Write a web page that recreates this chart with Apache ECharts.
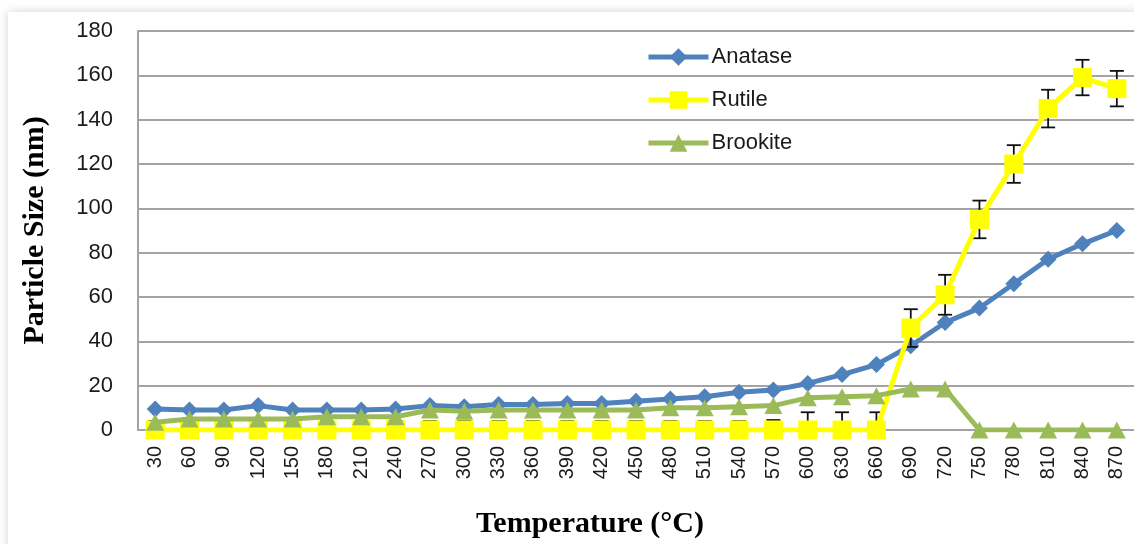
<!DOCTYPE html>
<html>
<head>
<meta charset="utf-8">
<script src="https://cdn.jsdelivr.net/npm/echarts@6/dist/echarts.min.js"></script>
<style>
html,body{margin:0;padding:0;background:#ffffff;}
#frame{position:absolute;left:8px;top:12px;width:1200px;height:700px;background:#fff;box-shadow:0 0 9px rgba(0,0,0,0.18);}
#chart{position:absolute;left:0;top:0;width:1134px;height:544px;}
</style>
</head>
<body>
<div id="frame"></div>
<div id="chart"></div>
<script>
const categories = ['30','60','90','120','150','180','210','240','270','300','330','360','390','420','450','480','510','540','570','600','630','660','690','720','750','780','810','840','870'];
const anatase = [9.5, 9, 9, 11, 9, 9, 9, 9.5, 11, 10.5, 11.5, 11.5, 12, 12, 13, 14, 15, 17, 18, 21, 25, 29.5, 38, 48.5, 55, 66, 77, 84, 90];
const rutile = [0, 0, 0, 0, 0, 0, 0, 0, 0, 0, 0, 0, 0, 0, 0, 0, 0, 0, 0, 0, 0, 0, 46, 61, 95, 120, 145, 159, 154];
const rutileErr = [4, 4, 4, 4, 4, 4, 4, 4, 4, 4, 4, 4, 4, 4, 4, 4, 4, 4, 4.5, 8, 8, 8, 8.5, 9, 8.5, 8.5, 8.5, 8, 8];
const brookite = [3.5, 5, 5, 5, 5, 6, 6, 6, 9, 8.5, 9, 9, 9, 9, 9, 10, 10, 10.5, 11, 14.5, 15, 15.5, 18.5, 18.5, 0, 0, 0, 0, 0];
const yTicks = {min: 0, max: 180, interval: 20};

const errData = rutile.map((v, i) => [i, v - rutileErr[i], v + rutileErr[i]]);

const chart = echarts.init(document.getElementById('chart'), null, {renderer: 'canvas'});
const gridColor = '#a3a3a3';
chart.setOption({
  backgroundColor: 'transparent',
  animation: false,
  grid: {left: 138, right: 0, top: 31, bottom: 112, containLabel: false},
  legend: {
    data: ['Anatase', 'Rutile', 'Brookite'],
    orient: 'vertical',
    left: 641,
    top: 41,
    itemWidth: 60,
    itemHeight: 22,
    itemGap: 21,
    lineStyle: {width: 5},
    textStyle: {fontFamily: 'Liberation Sans', fontSize: 22, color: '#1a1a1a', lineHeight: 22, padding: [0, 0, 0, -2]}
  },
  xAxis: {
    type: 'category',
    data: categories,
    boundaryGap: true,
    axisLine: {show: true, lineStyle: {color: gridColor, width: 2}},
    axisTick: {show: false},
    axisLabel: {rotate: 90, margin: 16, fontFamily: 'Liberation Sans', fontSize: 20, color: '#1a1a1a', interval: 0},
    splitLine: {show: false},
    name: 'Temperature (°C)',
    nameLocation: 'middle',
    nameGap: 79,
    nameTextStyle: {fontFamily: 'Liberation Serif', fontWeight: 'bold', fontSize: 30, color: '#000', padding: [0, 92, 0, 0]}
  },
  yAxis: {
    type: 'value',
    min: yTicks.min, max: yTicks.max, interval: yTicks.interval,
    axisLine: {show: true, lineStyle: {color: gridColor, width: 2}},
    axisTick: {show: false},
    axisLabel: {margin: 25, fontFamily: 'Liberation Sans', fontSize: 22, color: '#1a1a1a'},
    splitLine: {show: true, lineStyle: {color: gridColor, width: 2}},
    name: 'Particle Size (nm)',
    nameLocation: 'middle',
    nameRotate: 90,
    nameGap: 88,
    nameTextStyle: {fontFamily: 'Liberation Serif', fontWeight: 'bold', fontSize: 30, color: '#000'}
  },
  series: [
    {
      name: 'Anatase', type: 'line', data: anatase, z: 2,
      symbol: 'diamond', symbolSize: [17, 17],
      lineStyle: {color: '#4f81bd', width: 5},
      itemStyle: {color: '#4f81bd'}
    },
    {
      name: 'RutileErr', type: 'custom', data: errData, z: 3, clip: true,
      renderItem: function (params, api) {
        const idx = api.value(0);
        const lo = api.coord([idx, api.value(1)]);
        const hi = api.coord([idx, api.value(2)]);
        const hw = 7;
        const st = {stroke: '#111', lineWidth: 1.8};
        return {type: 'group', children: [
          {type: 'line', shape: {x1: lo[0], y1: lo[1], x2: hi[0], y2: hi[1]}, style: st},
          {type: 'line', shape: {x1: hi[0] - hw, y1: hi[1], x2: hi[0] + hw, y2: hi[1]}, style: st},
          {type: 'line', shape: {x1: lo[0] - hw, y1: lo[1], x2: lo[0] + hw, y2: lo[1]}, style: st}
        ]};
      }
    },
    {
      name: 'Rutile', type: 'line', data: rutile, z: 4,
      symbol: 'rect', symbolSize: 19,
      lineStyle: {color: '#ffff00', width: 5},
      itemStyle: {color: '#ffff00'}
    },
    {
      name: 'Brookite', type: 'line', data: brookite, z: 5,
      symbol: 'triangle', symbolSize: [18, 17],
      lineStyle: {color: '#9bbb59', width: 5},
      itemStyle: {color: '#9bbb59'}
    }
  ]
});
</script>
</body>
</html>
